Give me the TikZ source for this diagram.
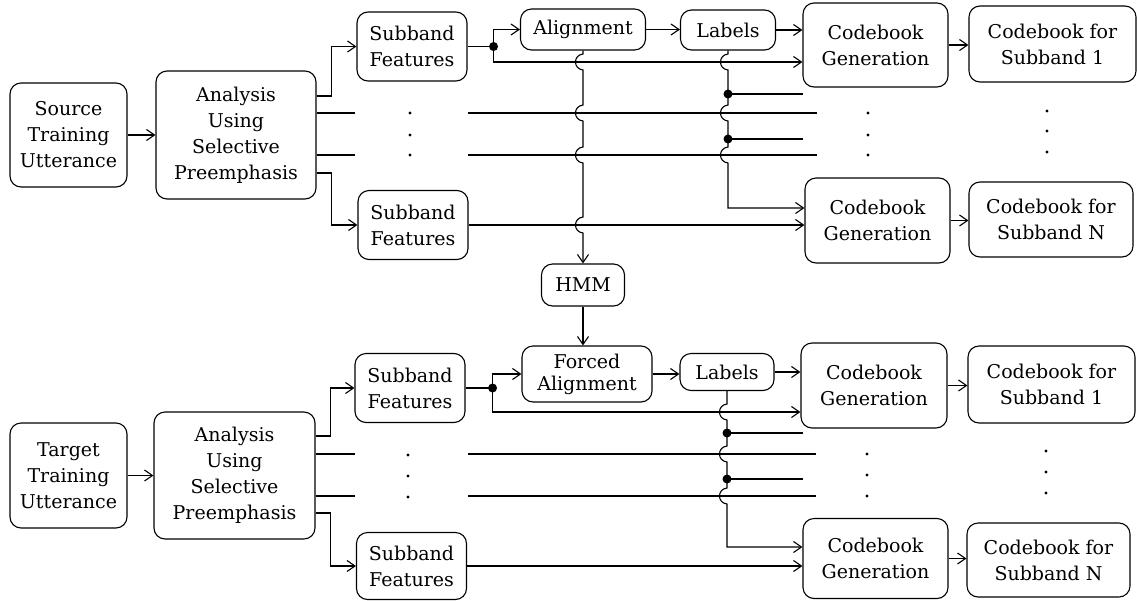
\documentclass[tikz,border=0pt]{standalone}
\usepackage{fontspec}
\setmainfont{DejaVu Serif}
\usetikzlibrary{arrows.meta}
% a vertical line hopping over a horizontal one at (x,y)
\newcommand\hopat[2]{-- (#1,#2-8) .. controls (#1-10,#2-7) and (#1-10,#2+7) .. (#1,#2+8)}
\begin{document}
\begin{tikzpicture}[x=1pt,y=-1pt,line width=1.1pt,
  bx/.style 2 args={draw, rounded corners=11pt, align=center, inner sep=0pt,
    minimum width=#1pt, minimum height=#2pt, font=\fontsize{19}{26}\selectfont},
  arr/.style={-{Straight Barb[length=8pt,width=11pt]}}]
\fill[white] (0,0) rectangle (1137,600);
\useasboundingbox (0,0) rectangle (1137,600);

% ---------------- source branch ----------------
\node[bx={117}{104}] (src) at (68.5,135) {Source\\Training\\Utterance};
\node[bx={160}{128}] (an1) at (236,135) {Analysis\\Using\\Selective\\Preemphasis};
\node[bx={110}{69}] (sb1) at (412,46.5) {Subband\\Features};
\node[bx={110}{69}] (sbN) at (413,225) {Subband\\Features};
\node[bx={125}{41}] (al) at (583,29.5) {Alignment};
\node[bx={95}{40}] (lb1) at (728,30) {Labels};
\node[bx={145}{84}] (cg1) at (875.5,45) {Codebook\\Generation};
\node[bx={167}{76}] (cb1) at (1052.5,44) {Codebook for\\Subband 1};
\node[bx={145}{85}] (cgN) at (877.5,220.5) {Codebook\\Generation};
\node[bx={164}{75}] (cbN) at (1051,219.5) {Codebook for\\Subband N};
\node[bx={83}{42}] (hmm) at (583,285) {HMM};

\draw[arr] (src.east) -- (an1.west);
\draw[arr] ([yshift=39pt]an1.east) -- ++(15,0) |- (sb1.west);
\draw[arr] ([yshift=-38pt]an1.east) -- ++(15,0) |- (sbN.west);
\coordinate (s2a) at (355,113); \coordinate (s2b) at (468,113); \coordinate (s2c) at (817,113);
\coordinate (s3a) at (355,155); \coordinate (s3b) at (468,155); \coordinate (s3c) at (817,155);
\draw ([yshift=22pt]an1.east) -- (s2a);
\draw ([yshift=-20pt]an1.east) -- (s3a);
\draw (s2b) -- (s2c);
\draw (s3b) -- (s3c);

\path (sb1.east) ++(26,0) coordinate (j1);
\draw (sb1.east) -- (j1);
\draw[arr] (j1) |- (al.west);
\draw[arr] (j1) |- ([yshift=-17pt]cg1.west);
\fill (j1) circle (4.5pt);
\draw[arr] (al.east) -- (al.east -| lb1.west);
\draw[arr] (lb1.east) -- (lb1.east -| cg1.west);
\draw[arr] (cg1.east) -- (cg1.east -| cb1.west);
\draw[arr] (sbN.east) -- (sbN.east -| cgN.west);
\draw[arr] (cgN.east) -- (cgN.east -| cbN.west);

\draw[arr] (al.south) \hopat{583}{62} \hopat{583}{113} \hopat{583}{155} \hopat{583}{225} -- (hmm.north);
\draw[arr] (lb1.south) \hopat{728}{62} \hopat{728}{113} \hopat{728}{155} |- ([yshift=12.5pt]cgN.west);
\coordinate (k1) at (728,94); \coordinate (k2) at (728,139);
\draw (k1) -- (803,94);
\draw (k2) -- (803,139);
\fill (k1) circle (4.5pt);
\fill (k2) circle (4.5pt);

\foreach \x/\y in {410/113,410/135,410/155,868/113,868/135,868/155,1047/111,1047/131,1047/152}
  \fill (\x,\y) circle (1.7pt);

% ---------------- target branch ----------------
\node[bx={117}{105}] (tgt) at (68.5,475.5) {Target\\Training\\Utterance};
\node[bx={161}{127}] (an2) at (234.5,475.5) {Analysis\\Using\\Selective\\Preemphasis};
\node[bx={110}{69}] (sb2) at (410,388) {Subband\\Features};
\node[bx={110}{67}] (sbN2) at (411.5,566) {Subband\\Features};
\node[bx={130}{56}, font=\fontsize{19}{22}\selectfont] (fa) at (587,374) {Forced\\Alignment};
\node[bx={94}{37}] (lb2) at (727,372) {Labels};
\node[bx={146}{85}] (cg2) at (874,385.5) {Codebook\\Generation};
\node[bx={167}{77}] (cb2) at (1051.5,384.5) {Codebook for\\Subband 1};
\node[bx={145}{80}] (cgN2) at (875.5,558.5) {Codebook\\Generation};
\node[bx={163}{74}] (cbN2) at (1048.5,560) {Codebook for\\Subband N};

\draw[arr] (hmm.south) -- (hmm.south |- fa.north);
\draw[arr] (tgt.east) -- (an2.west);
\draw[arr] ([yshift=39.5pt]an2.east) -- ++(15,0) |- (sb2.west);
\draw[arr] ([yshift=-37.5pt]an2.east) -- ++(15,0) |- (sbN2.west);
\coordinate (t2a) at (355,454); \coordinate (t2b) at (468,454); \coordinate (t2c) at (816,454);
\coordinate (t3a) at (355,496); \coordinate (t3b) at (468,496); \coordinate (t3c) at (816,496);
\draw ([yshift=21.5pt]an2.east) -- (t2a);
\draw ([yshift=-20.5pt]an2.east) -- (t3a);
\draw (t2b) -- (t2c);
\draw (t3b) -- (t3c);

\path (sb2.east) ++(27,0) coordinate (j2);
\draw (sb2.east) -- (j2);
\draw[arr] (j2) |- (fa.west);
\draw[arr] (j2) |- ([yshift=-26.5pt]cg2.west);
\fill (j2) circle (4.5pt);
\draw[arr] (fa.east) -- (fa.east -| lb2.west);
\draw[arr] (lb2.east) -- (lb2.east -| cg2.west);
\draw[arr] (cg2.east) -- (cg2.east -| cb2.west);
\draw[arr] (sbN2.east) -- (sbN2.east -| cgN2.west);
\draw[arr] (cgN2.east) -- (cgN2.east -| cbN2.west);

\draw[arr] (lb2.south) \hopat{727}{412} \hopat{727}{454} \hopat{727}{496} |- ([yshift=11.5pt]cgN2.west);
\coordinate (k3) at (727,433); \coordinate (k4) at (727,479);
\draw (k3) -- (803,433);
\draw (k4) -- (803,479);
\fill (k3) circle (4.5pt);
\fill (k4) circle (4.5pt);

\foreach \x/\y in {408/455,408/476,408/497,867/454,867/475,867/496,1046/451,1046/472,1046/493}
  \fill (\x,\y) circle (1.7pt);
\end{tikzpicture}
\end{document}
